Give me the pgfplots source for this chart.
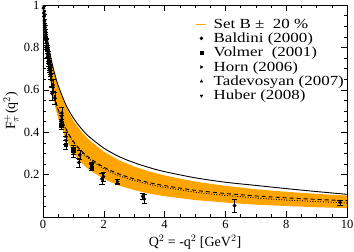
\documentclass[border=0pt]{standalone}
\usepackage{fontspec}
\setmainfont{Liberation Serif}
\newfontfamily\legfont{Liberation Serif}[FakeStretch=1.22]
\usepackage{pgfplots}
\pgfplotsset{compat=1.18}
\definecolor{bandor}{RGB}{255,165,0}
\pgfplotsset{
 dat/.style={black, only marks, mark size=1.7pt, error bars/.cd, y dir=both, y explicit, error bar style={line width=0.5pt,solid}, error mark options={rotate=90, mark size=2.6pt, line width=0.5pt}},
}
\newcommand{\legmark}[1]{\path (0pt,0pt) (10pt,0pt); \path[black, fill=black] plot[#1, mark size=1.6pt] coordinates {(5pt,0pt)};}
\begin{document}
\begin{tikzpicture}
\begin{axis}[name=ax, scale only axis, width=304pt, height=212pt,
 xmin=0,xmax=10,ymin=0,ymax=1,
 xtick={0,2,4,6,8,10}, xticklabels={0,2,4,6,8,10}, minor x tick num=3,
 ytick={0,0.2,0.4,0.6,0.8,1}, yticklabels={,0.2,0.4,0.6,0.8,1}, minor y tick num=3,
 tick align=inside, major tick length=6pt, minor tick length=3pt,
 tick style={black, line width=0.5pt},
 axis line style={line width=0.6pt},
 ticklabel style={font=\fontsize{12.5}{14}\selectfont},
 /pgf/number format/assume math mode=true,
 xlabel={Q$^2$ = -q$^2$ [GeV$^2$]}, ylabel={F$_\pi^+$(q$^2$)},
 label style={font=\fontsize{14}{16}\selectfont},
 xlabel style={at={(axis description cs:0.5,-0.118)},anchor=center},
 ylabel style={at={(axis description cs:-0.105,0.5)},anchor=center},
 legend cell align=left,
 legend style={draw=none, fill=none, at={(axis description cs:0.997,0.945)}, anchor=north east, font=\legfont\fontsize{13.9}{15}\selectfont, inner sep=0pt, column sep=5pt, row sep=-0.8pt},
]
% band
\addplot[fill=bandor, draw=none, legend image code/.code={\path (0pt,0pt) (10pt,0pt); \fill[bandor] (0pt,-0.5pt) rectangle (10pt,0.5pt);}] coordinates {
(0,1)(0.02,0.974)(0.05,0.937)(0.1,0.883)(0.15,0.835)(0.2,0.793)(0.3,0.721)(0.4,0.662)(0.5,0.614)(0.75,0.521)(1,0.454)(1.25,0.405)(1.5,0.366)(2,0.308)(2.5,0.268)(3,0.238)(3.5,0.215)(4,0.196)(5,0.167)(6,0.147)(7,0.131)(8,0.119)(9,0.109)(10,0.101)
(10,0.042)(9,0.046)(8,0.052)(7,0.058)(6,0.068)(5,0.080)(4,0.098)(3.5,0.110)(3,0.127)(2.5,0.148)(2,0.179)(1.5,0.225)(1.25,0.258)(1,0.303)(0.75,0.367)(0.5,0.465)(0.4,0.521)(0.3,0.592)(0.2,0.685)(0.15,0.743)(0.1,0.813)(0.05,0.897)(0.02,0.956)(0,1)} -- cycle;
\addlegendentry{Set B ± \ 20 \%}

% solid
\addplot[black, line width=0.9pt, smooth, forget plot] coordinates {
(0,1)(0.02,0.974)(0.05,0.938)(0.1,0.883)(0.15,0.836)(0.2,0.794)(0.3,0.724)(0.4,0.668)(0.5,0.620)(0.75,0.530)(1,0.467)(1.25,0.419)(1.5,0.381)(2,0.325)(2.5,0.285)(3,0.256)(3.5,0.233)(4,0.214)(5,0.185)(6,0.164)(7,0.149)(8,0.134)(9,0.120)(10,0.107)};

% dashed
\addplot[black, line width=0.9pt, smooth, dash pattern=on 4pt off 3pt, forget plot] coordinates {
(0,1)(0.02,0.958)(0.05,0.902)(0.1,0.824)(0.15,0.760)(0.2,0.707)(0.3,0.622)(0.4,0.558)(0.5,0.507)(0.75,0.417)(1,0.357)(1.25,0.314)(1.5,0.282)(2,0.235)(2.5,0.203)(3,0.180)(3.5,0.162)(4,0.148)(5,0.126)(6,0.111)(7,0.0995)(8,0.0904)(9,0.083)(10,0.0769)};

% dotted
\addplot[black, line width=0.9pt, smooth, dash pattern=on 1pt off 1.6pt, forget plot] coordinates {
(0,1)(0.02,0.957)(0.05,0.900)(0.1,0.821)(0.15,0.757)(0.2,0.703)(0.3,0.618)(0.4,0.554)(0.5,0.503)(0.75,0.414)(1,0.352)(1.25,0.308)(1.5,0.276)(2,0.228)(2.5,0.195)(3,0.172)(3.5,0.154)(4,0.140)(5,0.117)(6,0.102)(7,0.090)(8,0.080)(9,0.073)(10,0.066)};

% Baldini
\addplot[mark=*, legend image code/.code={\legmark{mark=*}}, dat] coordinates {
(0.015,0.985)+-(0,0.01)(0.025,0.962)+-(0,0.01)(0.035,0.945)+-(0,0.01)(0.045,0.925)+-(0,0.01)(0.055,0.905)+-(0,0.01)
(0.065,0.895)+-(0,0.01)(0.075,0.875)+-(0,0.012)(0.085,0.860)+-(0,0.012)(0.095,0.850)+-(0,0.012)(0.105,0.832)+-(0,0.012)
(0.115,0.825)+-(0,0.013)(0.125,0.805)+-(0,0.013)(0.135,0.795)+-(0,0.014)(0.145,0.785)+-(0,0.014)(0.155,0.770)+-(0,0.015)
(0.165,0.765)+-(0,0.015)(0.175,0.750)+-(0,0.016)(0.185,0.740)+-(0,0.016)(0.195,0.730)+-(0,0.017)(0.205,0.722)+-(0,0.018)
(0.215,0.710)+-(0,0.018)(0.225,0.700)+-(0,0.019)(0.235,0.695)+-(0,0.02)(0.245,0.685)+-(0,0.02)(0.253,0.672)+-(0,0.022)
(0.28,0.646)+-(0,0.03)(0.295,0.583)+-(0,0.03)(0.33,0.622)+-(0,0.03)(0.39,0.560)+-(0,0.03)(0.62,0.490)+-(0,0.03)
(1.18,0.257)+-(0,0.02)(1.21,0.293)+-(0,0.02)(1.94,0.180)+-(0,0.025)(1.99,0.190)+-(0,0.02)
(3.28,0.097)+-(0,0.015)(3.33,0.085)+-(0,0.02)(6.30,0.054)+-(0,0.03)(9.77,0.069)+-(0,0.012)};
\addlegendentry{Baldini (2000)}

% Volmer
\addplot[mark=square*, legend image code/.code={\legmark{mark=square*}}, dat] coordinates {
(0.6,0.433)+-(0,0.017)(0.75,0.341)+-(0,0.022)(1.0,0.312)+-(0,0.016)(1.6,0.233)+-(0,0.014)};
\addlegendentry{Volmer \ (2001)}

% Horn
\addplot[mark=triangle*, mark options={rotate=-90}, legend image code/.code={\legmark{mark=triangle*,mark options={rotate=-90}}}, dat] coordinates {
(1.6,0.243)+-(0,0.012)(2.45,0.167)+-(0,0.010)};
\addlegendentry{Horn (2006)}

% Tadevosyan
\addplot[mark=triangle*, legend image code/.code={\legmark{mark=triangle*}}, dat] coordinates {
(0.6,0.458)+-(0,0.02)(0.75,0.380)+-(0,0.02)(1.0,0.318)+-(0,0.02)(1.6,0.237)+-(0,0.015)};
\addlegendentry{Tadevosyan (2007)}

% Huber
\addplot[mark=triangle*, mark options={rotate=180}, legend image code/.code={\legmark{mark=triangle*,mark options={rotate=180}}}, dat] coordinates {
(0.6,0.441)+-(0,0.02)(0.75,0.361)+-(0,0.02)(1.0,0.303)+-(0,0.02)(1.6,0.243)+-(0,0.015)(2.45,0.166)+-(0,0.01)};
\addlegendentry{Huber (2008)}
\end{axis}
\pgfresetboundingbox
\path ([xshift=-43pt,yshift=-35pt]ax.south west) rectangle ([xshift=7pt,yshift=5pt]ax.north east);
\end{tikzpicture}
\end{document}
